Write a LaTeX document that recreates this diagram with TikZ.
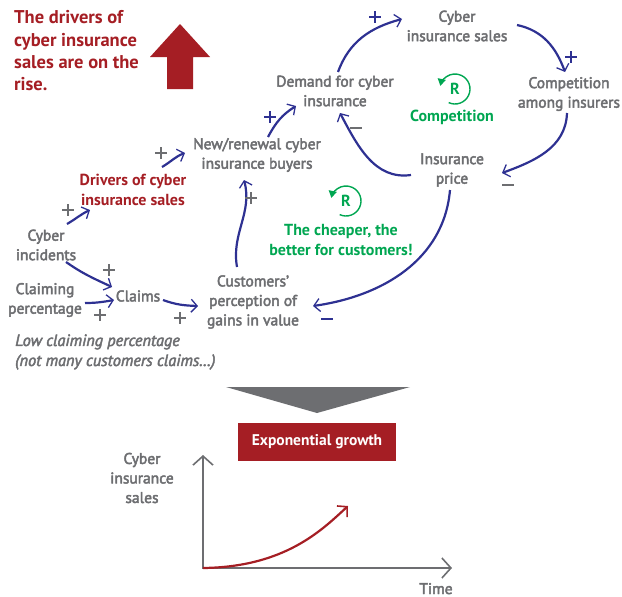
\documentclass[tikz,border=0pt]{standalone}
\usepackage{fontspec}
\setmainfont{PT Sans}
\usetikzlibrary{arrows.meta}
\definecolor{cblue}{HTML}{2E3192}
\definecolor{cgray}{HTML}{6D6E71}
\definecolor{cred}{HTML}{A51E24}
\definecolor{cgreen}{HTML}{00A651}
\newcommand\heavytext{\special{pdf:literal direct 2 Tr 0.45 w}}
\newcommand\plussign{\makebox[0pt][c]{\rule[-5.8pt]{2.7pt}{11.6pt}}\makebox[0pt][c]{\rule[-1.35pt]{11.6pt}{2.7pt}}}
\newcommand\minussign{\makebox[0pt][c]{\rule[-1.35pt]{11.6pt}{2.7pt}}}
\begin{document}
\begin{tikzpicture}[x=1pt,y=-1pt,
  lbl/.style={text=cgray, font=\fontsize{15.5}{19.5}\selectfont, align=center, inner sep=0pt, execute at begin node=\heavytext},
  redlbl/.style={text=cred, font=\fontsize{16}{19.5}\selectfont\bfseries, align=center, inner sep=0pt},
  grnlbl/.style={text=cgreen, font=\fontsize{16}{19.5}\selectfont\bfseries, align=center, inner sep=0pt},
  notelbl/.style={text=cgray, font=\fontsize{16.3}{20}\selectfont\itshape, align=left, inner sep=0pt, anchor=west, execute at begin node=\heavytext},
  titlelbl/.style={text=cred, font=\fontsize{18.5}{22.3}\selectfont\bfseries, align=left, inner sep=0pt, anchor=west},
  link/.style={draw=cblue, line width=2.2pt, -{Straight Barb[length=6pt,width=13pt,line width=1.3pt]}},
  sgnblue/.style={text=cblue, inner sep=0pt},
  sgngray/.style={text=cgray, inner sep=0pt},
  rloop/.style={draw=cgreen, line width=1.4pt, -{Triangle[length=7pt,width=8pt]}},
  axis/.style={draw=cgray, line width=2.2pt},
]
\useasboundingbox (0,0) rectangle (622,597);

% title and big arrow
\node[titlelbl] (title) at (14,51) {The drivers of\\cyber insurance\\sales are on the\\rise.};
\fill[cred] (167,89) -- (167,57) -- (150,57) -- (180,24) -- (210,57) -- (193,57) -- (193,89) -- cycle;

% nodes
\node[lbl] (sales) at (457,26) {Cyber\\insurance sales};
\node[lbl] (demand) at (335,91) {Demand for cyber\\insurance};
\node[lbl] (comp) at (569,94) {Competition\\among insurers};
\node[lbl] (price) at (452,170) {Insurance\\price};
\node[lbl] (newbuy) at (257,155) {New/renewal cyber\\insurance buyers};
\node[redlbl] (drivers) at (133,190) {Drivers of cyber\\insurance sales};
\node[lbl] (incid) at (46,245) {Cyber\\incidents};
\node[lbl] (claimpct) at (45,300) {Claiming\\percentage};
\node[lbl] (claims) at (138,296) {Claims};
\node[lbl] (percep) at (253,302) {Customers’\\perception of\\gains in value};
\node[notelbl] (note) at (15,352) {Low claiming percentage\\(not many customers claims…)};

% R loops
\coordinate (r1) at (455,89);
\node[grnlbl] (r1lab) at (r1) {R};
\draw[rloop] ([shift={(115:15)}]r1) arc[start angle=115, end angle=-168, radius=15];
\node[grnlbl] (r1name) at (452,117) {Competition};
\coordinate (r2) at (346,201);
\node[grnlbl] (r2lab) at (r2) {R};
\draw[rloop] ([shift={(115:15)}]r2) arc[start angle=115, end angle=-168, radius=15];
\node[grnlbl] (r2name) at (341,240) {The cheaper, the\\better for customers!};

% links
\draw[link] ([shift={(3,-19)}]demand.center) to[out=70,in=195] ([shift={(-55,-7)}]sales.center);
\draw[link] ([shift={(60,-1)}]sales.center) to[out=-12,in=110] ([shift={(-4,-22)}]comp.center);
\draw[link] ([shift={(-2,19)}]comp.center) to[out=-92,in=20] ([shift={(50,3)}]price.center);
\draw[link] ([shift={(-41,5)}]price.center) to[out=188,in=-62] ([shift={(5,22)}]demand.center);
\draw[link] ([shift={(-2,20)}]price.center) to[out=-95,in=8] ([shift={(60,4)}]percep.center);
\draw[link] ([shift={(-16,-35)}]percep.center) to[out=100,in=-75] ([shift={(-13,25)}]newbuy.center);
\draw[link] ([shift={(11,-18)}]newbuy.center) to[out=62,in=212] ([shift={(-39,15)}]demand.center);
\draw[link] ([shift={(29,-23)}]drivers.center) to[out=30,in=200] ([shift={(-72,-2)}]newbuy.center);
\draw[link] ([shift={(21,-21)}]incid.center) to[out=30,in=205] ([shift={(-43,20)}]drivers.center);
\draw[link] ([shift={(20,17)}]incid.center) to[out=-35,in=155] ([shift={(-26,-9)}]claims.center);
\draw[link] ([shift={(40,3)}]claimpct.center) to[out=0,in=190] ([shift={(-24,4)}]claims.center);
\draw[link] ([shift={(25,4)}]claims.center) to[out=-20,in=178] ([shift={(-55,4)}]percep.center);

% signs
\node[sgnblue] (s1) at (375,17) {\plussign};
\node[sgnblue] (s2) at (571,57) {\plussign};
\node[sgngray] (s3) at (508,185) {\minussign};
\node[sgngray] (s4) at (356,128) {\minussign};
\node[sgnblue] (s5) at (270,117) {\plussign};
\node[sgngray] (s6) at (251,198) {\plussign};
\node[sgngray] (s7) at (161,153) {\plussign};
\node[sgngray] (s8) at (68,210) {\plussign};
\node[sgngray] (s9) at (109,270) {\plussign};
\node[sgngray] (s10) at (100,315) {\plussign};
\node[sgngray] (s11) at (180,318) {\plussign};
\node[sgnblue] (s12) at (327,319) {\minussign};

% result
\fill[cgray] (226,387) -- (410,387) -- (317,413) -- cycle;
\node[fill=cred, text=white, font=\fontsize{15.5}{17}\selectfont\bfseries, minimum width=158pt, minimum height=38pt, inner sep=0pt] (expo) at (317,442) {Exponential growth};

% chart
\coordinate (O) at (203,568);
\coordinate (ytop) at (203,455);
\coordinate (xend) at (452,568);
\coordinate (gend) at (348,506);
\draw[axis, {Straight Barb[length=9pt,width=20pt,line width=1.6pt]}-{Straight Barb[length=9pt,width=20pt,line width=1.6pt]}] (ytop) -- (O) -- (xend);
\draw[draw=cred, line width=2.2pt, -{Straight Barb[length=7pt,width=15pt,line width=1.6pt]}] (O) .. controls (285,567) and (322,530) .. (gend);
\node[lbl] (ylab) at (142,478) {Cyber\\insurance\\sales};
\node[lbl, anchor=base] (xlab) at (436,594) {Time};
\end{tikzpicture}
\end{document}
